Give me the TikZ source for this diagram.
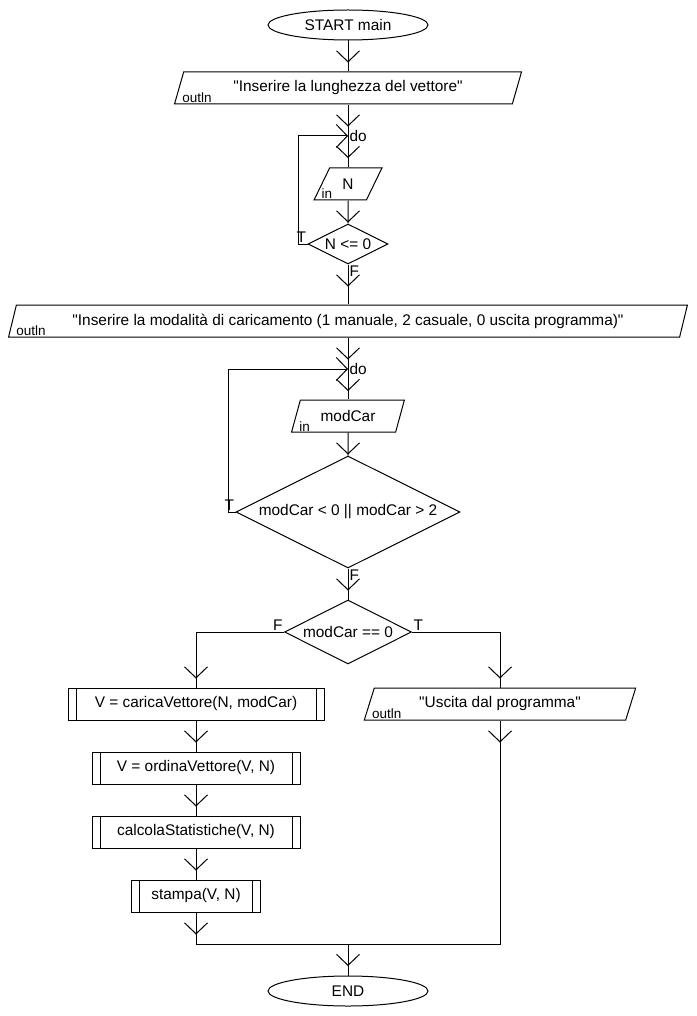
\documentclass[tikz,border=0pt]{standalone}
\usepackage{fontspec}
\setmainfont{Liberation Sans}[Ligatures=TeXOff]
\usetikzlibrary{shapes, arrows.meta, decorations.markings}

\begin{document}
\begin{tikzpicture}[x=1pt, y=-1pt, line width=1pt, font=\fontsize{15.4}{18}\selectfont,
        term/.style={draw, ellipse, minimum width=160pt, minimum height=30pt, inner sep=0pt},
        io/.style={draw, trapezium, trapezium left angle=66, trapezium right angle=114, trapezium stretches=true, minimum height=32pt, inner sep=0pt},
        call/.style={draw, rectangle, minimum height=32pt, inner sep=0pt, path picture={
            \draw ([xshift=8pt]path picture bounding box.north west) -- ([xshift=8pt]path picture bounding box.south west);
            \draw ([xshift=-8pt]path picture bounding box.north east) -- ([xshift=-8pt]path picture bounding box.south east);}},
        cond/.style={draw, diamond, shape aspect=2, inner sep=0pt},
        tag/.style={inner sep=1pt, font=\fontsize{13.5}{15}\selectfont},
        lbl/.style={inner sep=1pt},
        chev/.tip={Straight Barb[length=11pt, width=23pt]},
        flow/.style={decoration={markings, mark=at position 22pt with {\arrow{chev}}}, postaction={decorate}},
        flowend/.style={decoration={markings, mark=at position -9pt with {\arrow{chev}}}, postaction={decorate}}
      ]
        \fill[white] (0,0) rectangle (696,1016);
        % input N
        \node[term] (start) at (348,25) {START main};
        \node[io, minimum width=348pt] (out1) at (348,88) {"Inserire la lunghezza del vettore"};
        \node[tag, anchor=south west] (out1t) at ([xshift=7pt]out1.bottom left corner) {outln};
        \coordinate (do1) at (348,136);
        \node[lbl, anchor=west] (do1t) at (do1) {do};
        \node[io, minimum width=68pt] (in1) at (348,184) {N};
        \node[tag, anchor=south west] (in1t) at ([xshift=7pt]in1.bottom left corner) {in};
        \node[cond, minimum width=80pt, minimum height=40pt] (d1) at (348,244) {N <= 0};
        \node[lbl, anchor=south east] (d1t) at (d1.west) {T};
        \node[lbl, anchor=north west] (d1f) at (d1.south) {F};
        \coordinate (lp1) at (298,244);
        % input modCar
        \node[io, minimum width=680pt] (out2) at (348,321) {"Inserire la modalità di caricamento (1 manuale, 2 casuale, 0 uscita programma)"};
        \node[tag, anchor=south west] (out2t) at ([xshift=7pt]out2.bottom left corner) {outln};
        \coordinate (do2) at (348,369);
        \node[lbl, anchor=west] (do2t) at (do2) {do};
        \node[io, minimum width=113pt] (in2) at (348,416) {modCar};
        \node[tag, anchor=south west] (in2t) at ([xshift=7pt]in2.bottom left corner) {in};
        \node[cond, minimum width=224pt, minimum height=112pt] (d2) at (348,512) {modCar < 0 || modCar > 2};
        \node[lbl, anchor=south east] (d2t) at (d2.west) {T};
        \node[lbl, anchor=north west] (d2f) at (d2.south) {F};
        \coordinate (lp2) at (228,512);
        % choice
        \node[cond, minimum width=127pt, minimum height=64pt] (d3) at (348,632) {modCar == 0};
        \node[lbl, anchor=south east] (d3f) at (d3.west) {F};
        \node[lbl, anchor=south west] (d3t) at (d3.east) {T};
        \node[call, minimum width=256pt] (callA) at (196,704) {V = caricaVettore(N, modCar)};
        \node[call, minimum width=208pt] (callB) at (196,768) {V = ordinaVettore(V, N)};
        \node[call, minimum width=208pt] (callC) at (196,832) {calcolaStatistiche(V, N)};
        \node[call, minimum width=129pt] (callD) at (196,896) {stampa(V, N)};
        \node[io, minimum width=272pt] (usc) at (500,704) {"Uscita dal programma"};
        \node[tag, anchor=south west] (usct) at ([xshift=7pt]usc.bottom left corner) {outln};
        \coordinate (mL) at (196,944); \coordinate (mR) at (500,944); \coordinate (mC) at (348,944);
        \node[term] (stop) at (348,991) {END};
        % connectors
        \draw[flow] (start) -- (out1); \draw[flow] (out1) -- (do1);
        \draw[flow] (do1) -- (in1); \draw[flow] (in1) -- (d1);
        \draw[-chev] (d1.west) -- (lp1) |- (do1);
        \draw[flow] (d1) -- (out2); \draw[flow] (out2) -- (do2);
        \draw[flow] (do2) -- (in2); \draw[flow] (in2) -- (d2);
        \draw[-chev] (d2.west) -- (lp2) |- (do2);
        \draw[flow] (d2) -- (d3);
        \draw[flowend] (d3.west) -| (callA); \draw[flowend] (d3.east) -| (usc);
        \draw[flow] (callA) -- (callB); \draw[flow] (callB) -- (callC);
        \draw[flow] (callC) -- (callD); \draw[flow] (callD) -- (mL);
        \draw[flow] (usc) -- (mR) -- (mL);
        \draw[flow] (mC) -- (stop);
      \end{tikzpicture}
\end{document}
